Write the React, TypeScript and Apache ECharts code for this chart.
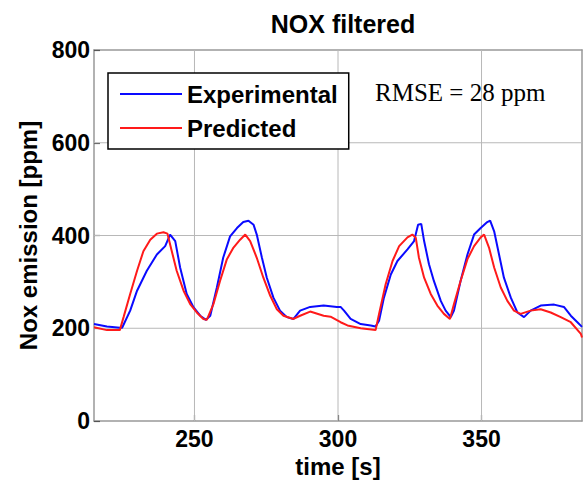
import React, { useEffect, useRef } from "react";
import * as echarts from "echarts";

const expT = [215, 219.5, 224, 224.8, 227.6, 230, 233.4, 236.9, 239.8, 241.5, 243.3, 245, 247.3, 249.7, 252, 254, 255.5, 257.8, 260, 262.4, 264.8, 267, 268.8, 270.6, 271.7, 273.5, 275.2, 277.5, 279.8, 282.2, 284.5, 286.8, 290.3, 295, 299.6, 300.9, 302.1, 304.4, 307.9, 311.4, 313.1, 314.3, 316, 318.4, 320.7, 324.2, 326.5, 327.9, 329, 330, 331.7, 333.4, 335.8, 337.5, 339.3, 340.4, 342.7, 345.1, 347.4, 349.7, 352, 353, 354.4, 356.1, 357.8, 360.2, 362.5, 364.8, 367.1, 370.6, 375.3, 378.7, 381.1, 383.4, 385];
const expV = [209, 204, 201, 201, 238, 281, 324, 359, 377, 402, 388, 331, 274, 245, 227, 218, 227, 288, 352, 398, 416, 429, 432, 423, 402, 352, 309, 266, 238, 224, 220, 238, 246, 249, 246, 246, 238, 220, 209, 206, 204, 216, 266, 316, 345, 370, 388, 423, 425, 388, 338, 302, 259, 238, 224, 238, 302, 359, 402, 416, 429, 432, 409, 359, 309, 266, 234, 224, 238, 249, 251, 246, 227, 213, 203];

const predT = [215, 219.5, 224, 225.3, 227.6, 230, 232.2, 234.6, 236.9, 239.2, 240.6, 242.1, 243.8, 246.2, 248.5, 250.8, 253.1, 254.3, 256.6, 258.9, 261.3, 263.6, 265.9, 267.7, 269.4, 271.7, 274, 276.4, 278.7, 281, 284.5, 286.8, 290.3, 295, 297.4, 300.9, 303.3, 307.9, 313.1, 314.3, 316.6, 319, 321.3, 324.2, 325.9, 327.1, 328.2, 330, 332.3, 334.6, 336.9, 339, 340.4, 342.7, 345.1, 347.4, 349.7, 350.9, 352.6, 354.4, 356.7, 359, 361.3, 363.6, 367.1, 370.6, 374.1, 377.6, 381.1, 384.6, 385];
const predV = [202, 196, 196, 224, 274, 324, 366, 391, 404, 407, 404, 366, 324, 281, 252, 234, 220, 218, 252, 302, 349, 374, 391, 402, 388, 352, 309, 270, 241, 227, 220, 227, 236, 227, 225, 213, 206, 200, 196, 231, 295, 345, 377, 396, 402, 395, 352, 309, 274, 249, 231, 220, 252, 302, 349, 377, 396, 402, 374, 331, 288, 259, 238, 231, 238, 241, 234, 224, 213, 188, 180];

const xTicks = [250, 300, 350];
const yGrid = [200, 400, 600];
const yMin = 0;
const yMax = 800;

const FONT = "'Liberation Sans', Arial, Helvetica, sans-serif";
const GRID_LINE = { color: "#b8b8b8", type: "solid", width: 1 };
const BORDER = { color: "#999", width: 1.5 };
const TICK = { color: "#555", width: 1.2 };

export default function App() {
  const ref = useRef<HTMLDivElement>(null);
  useEffect(() => {
    if (!ref.current) return;
    const chart = echarts.init(ref.current, undefined, { renderer: "svg" });
    const vGrid = xTicks.map((x) => ({
      name: "gx" + x,
      type: "line",
      data: [[x, yMin], [x, yMax]],
      symbol: "none",
      silent: true,
      lineStyle: GRID_LINE,
      color: "#b8b8b8",
      z: 2,
    }));
    const hGrid = yGrid.map((y) => ({
      name: "gy" + y,
      type: "line",
      data: [[215, y], [385, y]],
      symbol: "none",
      silent: true,
      lineStyle: GRID_LINE,
      color: "#b8b8b8",
      z: 2,
    }));
    chart.setOption({
      animation: false,
      backgroundColor: "#fff",
      title: {
        text: "NOX filtered",
        left: 338,
        textAlign: "center",
        top: 6,
        textStyle: { fontFamily: FONT, fontWeight: "bold", fontSize: 25, color: "#000" },
      },
      grid: { left: 94, right: 5, top: 50, bottom: 63 },
      legend: {
        orient: "vertical",
        left: 108,
        top: 73,
        padding: [9, 11, 9, 12],
        itemWidth: 62,
        itemHeight: 2,
        itemGap: 10,
        icon: "rect",
        z: 10,
        backgroundColor: "#fff",
        borderColor: "#000",
        borderWidth: 1.5,
        textStyle: { fontFamily: FONT, fontWeight: "bold", fontSize: 24, color: "#000" },
        data: ["Experimental", "Predicted"],
      },
      xAxis: [
        {
          type: "value",
          min: 215,
          max: 385,
          name: "time [s]",
          nameLocation: "middle",
          nameGap: 33,
          nameTextStyle: { fontFamily: FONT, fontWeight: "bold", fontSize: 24, color: "#000" },
          axisLine: { show: true, lineStyle: BORDER },
          axisTick: { show: true, inside: true, length: 6, customValues: xTicks, lineStyle: TICK },
          axisLabel: { customValues: xTicks, margin: 6, fontFamily: FONT, fontWeight: "bold", fontSize: 23, color: "#000" },
          splitLine: { show: false },
        },
        {
          type: "value",
          position: "top",
          min: 215,
          max: 385,
          axisLine: { show: true, onZero: false, lineStyle: BORDER },
          axisTick: { show: false },
          axisLabel: { show: false },
          splitLine: { show: false },
        },
      ],
      yAxis: [
        {
          type: "value",
          min: yMin,
          max: yMax,
          interval: 200,
          name: "Nox emission [ppm]",
          nameLocation: "middle",
          nameGap: 52,
          nameTextStyle: { fontFamily: FONT, fontWeight: "bold", fontSize: 24, color: "#000" },
          axisLine: { show: true, onZero: false, lineStyle: BORDER },
          axisTick: { show: true, inside: true, length: 6, lineStyle: TICK },
          axisLabel: { margin: 4, fontFamily: FONT, fontWeight: "bold", fontSize: 23, color: "#000" },
          splitLine: { show: false },
        },
        {
          type: "value",
          position: "right",
          min: yMin,
          max: yMax,
          interval: 200,
          axisLine: { show: true, onZero: false, lineStyle: BORDER },
          axisTick: { show: false },
          axisLabel: { show: false },
          splitLine: { show: false },
        },
      ],
      graphic: [
        {
          type: "text",
          left: 375,
          top: 80,
          z: 20,
          style: { text: "RMSE = 28 ppm", font: "25px 'Liberation Serif', 'Times New Roman', serif", fill: "#000" },
        },
      ],
      series: [
        ...vGrid,
        ...hGrid,
        {
          name: "Experimental",
          type: "line",
          data: expT.map((t, i) => [t, expV[i]]),
          symbol: "none",
          color: "#0a0aff",
          lineStyle: { width: 2, color: "#0a0aff" },
          z: 3,
        },
        {
          name: "Predicted",
          type: "line",
          data: predT.map((t, i) => [t, predV[i]]),
          symbol: "none",
          color: "#ff1a1a",
          lineStyle: { width: 2, color: "#ff1a1a" },
          z: 4,
        },
      ],
    });
    return () => chart.dispose();
  }, []);
  return <div ref={ref} style={{ width: 587, height: 484, position: "absolute", left: 0, top: 0 }} />;
}
